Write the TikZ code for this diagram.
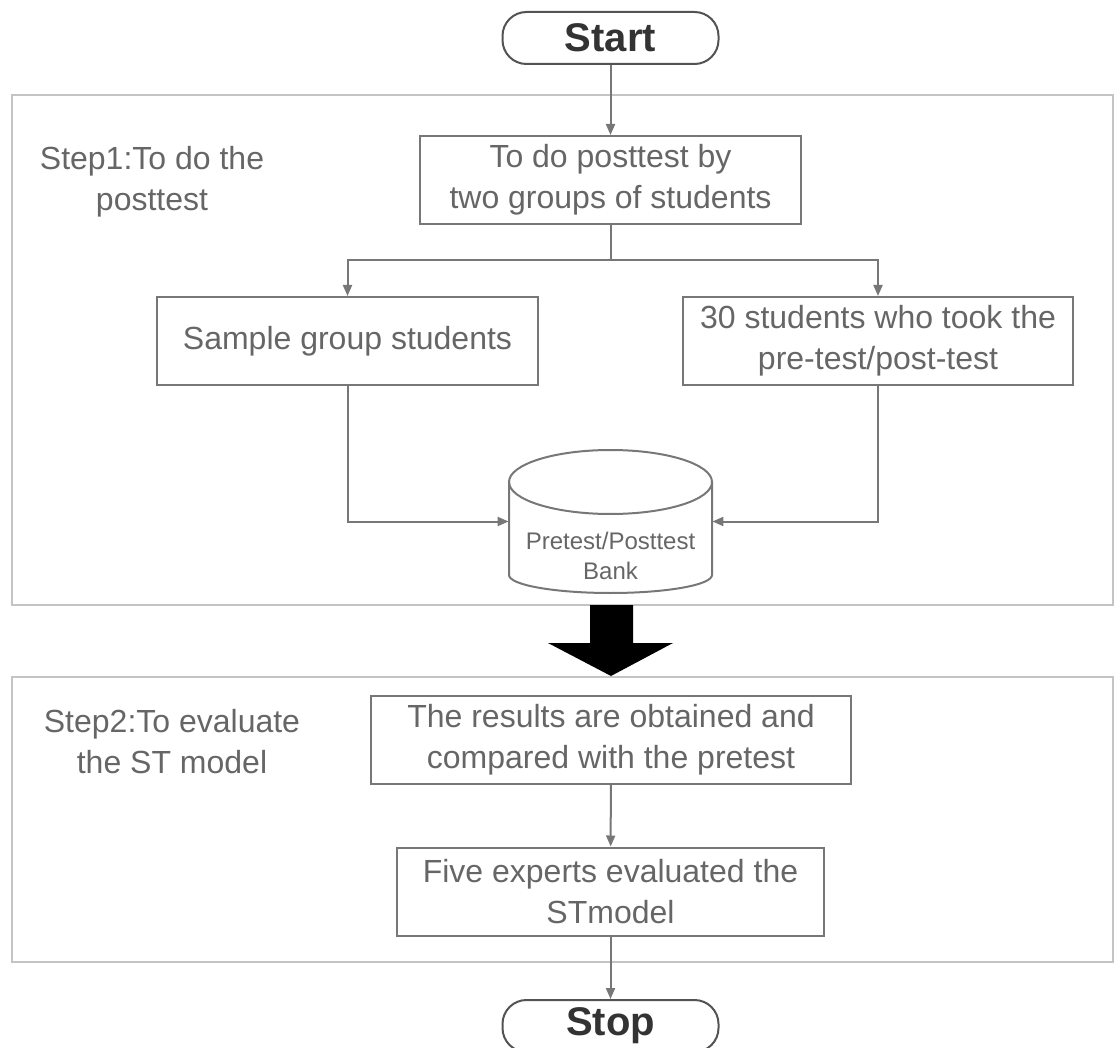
\documentclass[tikz,border=0pt]{standalone}
\usepackage{fontspec}
\setmainfont{Liberation Sans}
\usetikzlibrary{arrows.meta,positioning}
\definecolor{linegray}{HTML}{777777}
\definecolor{textgray}{HTML}{666666}
\definecolor{framegray}{HTML}{C4C4C4}

\begin{document}
\begin{tikzpicture}[x=0.5pt,y=-0.5pt,
  every node/.style={font=\fontsize{16}{20.5}\selectfont,text=textgray,inner sep=0pt},
  proc/.style={draw=linegray,line width=1pt,align=center,minimum height=44pt},
  term/.style={draw=linegray!70!black,line width=1pt,rounded corners=12pt,minimum width=108pt,minimum height=26pt,font=\fontsize{20}{24}\selectfont\bfseries,text=black!80},
  steplbl/.style={align=center},
  flow/.style={draw=linegray,line width=1pt,-{Triangle[length=5.5pt,width=4.5pt]}},
  frameline/.style={draw=framegray,line width=0.8pt}]
\useasboundingbox (0,0) rectangle (1114,1048);
\coordinate (split) at (610.5,260);
% frames
\draw[frameline] (12,95) rectangle (1113,605);
\draw[frameline] (12,677) rectangle (1113,962);
% nodes
\node[term] (start) at (610.5,38) {Start};
\node[proc,minimum width=190.5pt] (todo) at (610.5,180) {To do posttest by\\two groups of students};
\node[proc,minimum width=190.5pt] (sample) at (347.5,341) {Sample group students};
\node[proc,minimum width=195pt] (thirty) at (878,341) {30 students who took the\\pre-test/post-test};
\node[minimum width=101.5pt,minimum height=71.5pt] (bank) at (610.5,521.5) {};
\node[font=\fontsize{12}{15}\selectfont,align=center] (banktxt) at (610.5,556) {Pretest/Posttest\\Bank};
\node[proc,minimum width=240pt] (results) at (611,739.5) {The results are obtained and\\compared with the pretest};
\node[proc,minimum width=213.5pt] (experts) at (610.5,891.5) {Five experts evaluated the\\STmodel};
\node[term] (stop) at (610.5,1026) {Stop};
\node[steplbl] (step1) at (152,182) {Step1:To do the\\posttest};
\node[steplbl] (step2) at (172,742) {Step2:To evaluate\\the ST model};
% data bank
\draw[draw=linegray,line width=1pt] (610.5,482) ellipse [x radius=50.75pt,y radius=16pt];
\draw[draw=linegray,line width=1pt] (509,482) -- (509,575) arc[start angle=180,end angle=360,x radius=50.75pt,y radius=9pt] -- (712,482);
% connectors
\draw[flow] (start) -- (todo);
\draw[draw=linegray,line width=1pt] (todo) -- (split);
\draw[flow] (split) -| (sample);
\draw[flow] (split) -| (thirty);
\draw[flow] (sample) |- (bank);
\draw[flow] (thirty) |- (bank);
\draw[flow] (results) -- (experts);
\draw[flow] (experts) -- (stop);
% big arrow between steps
\fill[black] (590,605) -- (633,605) -- (633,643) -- (673,643) -- (611,676) -- (548,643) -- (590,643) -- cycle;
\end{tikzpicture}
\end{document}
